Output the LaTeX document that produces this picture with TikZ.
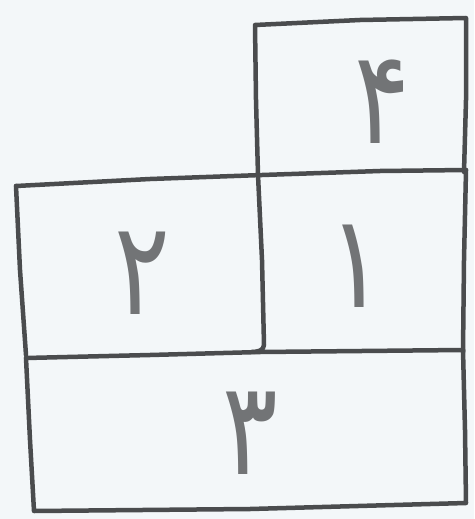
\documentclass[tikz,border=0pt]{standalone}
\usepackage{fontspec}
\newfontfamily\arabicfont[Script=Arabic]{DejaVu Sans}
\TeXXeTstate=1
\definecolor{paper}{HTML}{F3F7F9}
\definecolor{ink}{HTML}{4A4C4E}
\definecolor{digitgray}{HTML}{727476}
\begin{document}
\begin{tikzpicture}[x=1pt,y=-1pt,
  pen/.style={draw=ink, line width=4.5pt, line cap=round, line join=round},
  digit/.style={text=digitgray, font=\arabicfont\fontsize{130}{130}\selectfont, inner sep=0pt, xscale=0.8}]
\fill[paper] (0,0) rectangle (474,519);
\useasboundingbox (0,0) rectangle (474,519);
% top box (4)
\draw[pen] (258,175) -- (256,100) -- (255,25) -- (360,20) -- (466,18) -- (466,100) -- (464,172);
% top edge of middle row
\draw[pen] (16,186) -- (150,179) -- (262,175) -- (380,171) -- (466,170);
% left edge of middle box 2
\draw[pen] (16,186) -- (20,270) -- (26,355);
% divider between 2 and 1
\draw[pen] (258,175) -- (262,260) -- (264,345) to[out=-90,in=0] (252,352);
% right edge middle row
\draw[pen] (466,170) -- (464,260) -- (463,352);
% line between middle row and box 3
\draw[pen] (26,358) -- (150,355) -- (260,352) -- (463,350);
% bottom box 3
\draw[pen] (26,358) -- (30,440) -- (34,511) -- (250,509) -- (466,503) -- (465,430) -- (463,350);
% digits
\node[digit] (d4) at (382,102) {\beginR ۴\endR};
\node[digit] (d2) at (142,273) {\beginR ۲\endR};
\node[digit] (d1) at (356,266) {\beginR ۱\endR};
\node[digit] (d3) at (250,433) {\beginR ۳\endR};
\end{tikzpicture}
\end{document}
